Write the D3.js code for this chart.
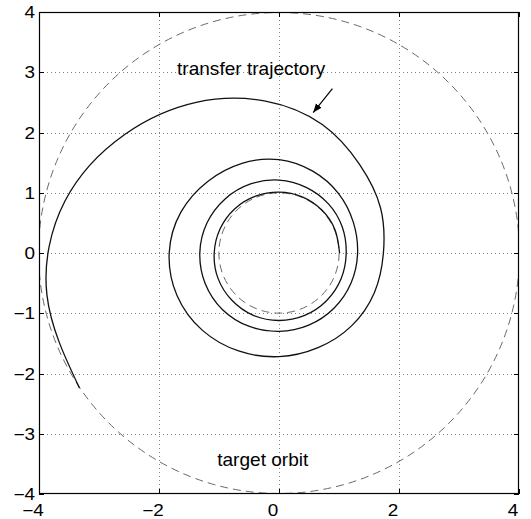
<!DOCTYPE html>
<html><head><meta charset="utf-8">
<script src="https://cdn.jsdelivr.net/npm/d3@7"></script>
<style>
html,body{margin:0;padding:0;background:#fff;}
svg{display:block;font-family:"Liberation Sans",Arial,Helvetica,sans-serif;}
</style></head>
<body>
<svg id="c" width="531" height="519"></svg>
<script>
// ---- data ----
// transfer trajectory in polar form: cumulative angle (degrees, counter-clockwise from +x) and radius
const spiralTheta = [0, 22.5, 45, 67.5, 90, 112.5, 135, 157.5, 180, 202.5, 225, 247.5, 270, 292.5, 315, 337.5,
                     360, 382.5, 405, 427.5, 450, 472.5, 495, 517.5, 540, 562.5, 585, 607.5, 630, 652.5, 675, 697.5,
                     720, 742.5, 765, 787.5, 810, 832.5, 855, 877.5, 900, 922.5, 945, 967.5, 990, 1012.5, 1035, 1057.5,
                     1080, 1103.8, 1127.6, 1151.3, 1175.1, 1198.9, 1222.7, 1246.4, 1270.2, 1294];
const spiralR = [1.01, 1.01, 1.01, 1.01, 1.01, 1.02, 1.04, 1.06, 1.08, 1.10, 1.11, 1.12, 1.12, 1.12, 1.12, 1.12,
                 1.12, 1.14, 1.16, 1.18, 1.21, 1.24, 1.27, 1.30, 1.32, 1.33, 1.33, 1.315, 1.30, 1.295, 1.295, 1.30,
                 1.31, 1.34, 1.40, 1.47, 1.55, 1.61, 1.68, 1.77, 1.83, 1.84, 1.81, 1.76, 1.72, 1.70, 1.71, 1.72,
                 1.74, 1.85, 1.99, 2.25, 2.53, 2.855, 3.24, 3.67, 3.93, 4.01];
const orbitRadii = [1, 4];
const xTicks = [-4, -2, 0, 2, 4];
const xTickLabels = ["\u22124", "\u22122", "0", "2", "4"];
const yTicks = [-4, -3, -2, -1, 0, 1, 2, 3, 4];
const yTickLabels = ["\u22124", "\u22123", "\u22122", "\u22121", "0", "1", "2", "3", "4"];
const xGrid = [-2, 0, 2];
const yGrid = [-3, -2, -1, 0, 1, 2, 3];
const labels = [
  {text: "transfer trajectory", x: -1.70, y: 2.95},
  {text: "target orbit", x: -1.03, y: -3.54}
];
const arrowFrom = [0.89, 2.73], arrowTo = [0.57, 2.33];

// ---- layout ----
const L = 39, R = 519, T = 12, B = 494;
const x = d3.scaleLinear().domain([-4, 4]).range([L, R]);
const y = d3.scaleLinear().domain([-4, 4]).range([B, T]);
const svg = d3.select("#c");
const rad = d => d * Math.PI / 180;

const defs = svg.append("defs");
defs.append("clipPath").attr("id", "clip")
  .append("rect").attr("x", L).attr("y", T).attr("width", R - L).attr("height", B - T);
defs.append("marker").attr("id", "ah")
  .attr("viewBox", "0 0 10 10").attr("refX", 10).attr("refY", 5)
  .attr("markerWidth", 9).attr("markerHeight", 9).attr("markerUnits", "userSpaceOnUse")
  .attr("orient", "auto")
  .append("path").attr("d", "M0,1 L10,5 L0,9 Z").attr("fill", "#000");

// grid
const grid = svg.append("g").attr("stroke", "#808080").attr("stroke-width", 1).attr("stroke-dasharray", "1,3");
grid.selectAll(".gx").data(xGrid).join("line")
  .attr("x1", d => Math.round(x(d)) + 0.5).attr("x2", d => Math.round(x(d)) + 0.5)
  .attr("y1", T).attr("y2", B);
grid.selectAll(".gy").data(yGrid).join("line")
  .attr("y1", d => Math.round(y(d)) + 0.5).attr("y2", d => Math.round(y(d)) + 0.5)
  .attr("x1", L).attr("x2", R);

// orbits
const plot = svg.append("g").attr("clip-path", "url(#clip)");
plot.selectAll(".orb").data(orbitRadii).join("circle")
  .attr("cx", x(0)).attr("cy", y(0))
  .attr("r", d => (x(d) - x(0) + y(0) - y(d)) / 2)
  .attr("fill", "none").attr("stroke", "#6a6a6a").attr("stroke-width", 1)
  .attr("stroke-dasharray", "8,5");

// spiral
const pts = spiralTheta.map((t, i) => ({t: rad(t), r: spiralR[i]}));
plot.append("path").datum(pts)
  .attr("d", d3.line()
    .x(d => x(d.r * Math.cos(d.t)))
    .y(d => y(d.r * Math.sin(d.t)))
    .curve(d3.curveNatural))
  .attr("fill", "none").attr("stroke", "#111").attr("stroke-width", 1.3);

// arrow
svg.append("line")
  .attr("x1", x(arrowFrom[0])).attr("y1", y(arrowFrom[1]))
  .attr("x2", x(arrowTo[0])).attr("y2", y(arrowTo[1]))
  .attr("stroke", "#000").attr("stroke-width", 1.2).attr("marker-end", "url(#ah)");

// text labels
labels.forEach(l => {
  svg.append("g").attr("transform", `translate(${x(l.x)},${y(l.y)}) scale(1.06,1)`)
    .append("text").attr("font-size", 18).attr("fill", "#000").text(l.text);
});

// box
svg.append("rect").attr("x", L + 0.5).attr("y", T + 0.5).attr("width", R - L - 1).attr("height", B - T - 1)
  .attr("fill", "none").attr("stroke", "#000").attr("stroke-width", 1.2);

// ticks (inward, all sides)
const tk = svg.append("g").attr("stroke", "#000").attr("stroke-width", 1);
xTicks.forEach(v => {
  const px = Math.round(x(v)) + 0.5;
  tk.append("line").attr("x1", px).attr("x2", px).attr("y1", B).attr("y2", B - 5);
  tk.append("line").attr("x1", px).attr("x2", px).attr("y1", T).attr("y2", T + 5);
});
yTicks.forEach(v => {
  const py = Math.round(y(v)) + 0.5;
  tk.append("line").attr("y1", py).attr("y2", py).attr("x1", L).attr("x2", L + 5);
  tk.append("line").attr("y1", py).attr("y2", py).attr("x1", R).attr("x2", R - 5);
});

// tick labels
xTicks.forEach((v, i) => {
  svg.append("g").attr("transform", `translate(${x(v) - 6},${B + 22}) scale(1.18,1)`)
    .append("text").attr("text-anchor", "middle").attr("font-size", 16).text(xTickLabels[i]);
});
yTicks.forEach((v, i) => {
  svg.append("g").attr("transform", `translate(${L - 4},${y(v) + 6}) scale(1.18,1)`)
    .append("text").attr("text-anchor", "end").attr("font-size", 16).text(yTickLabels[i]);
});
</script>
</body></html>
